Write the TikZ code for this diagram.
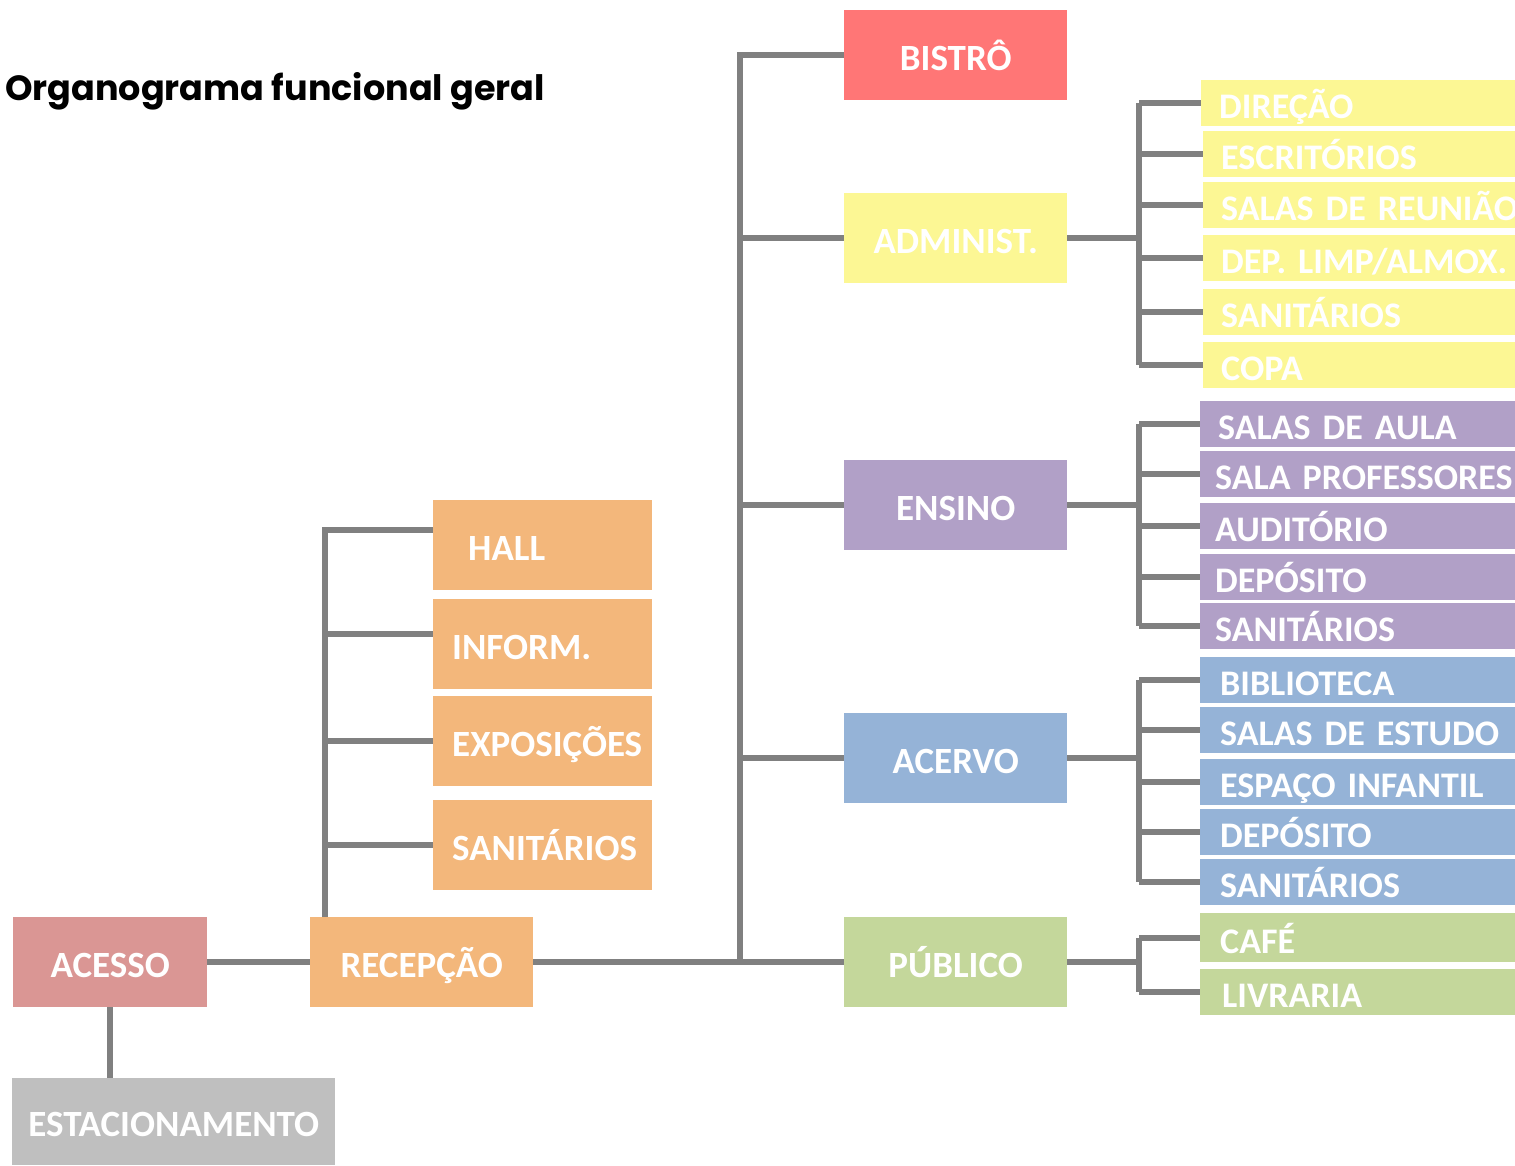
\documentclass[tikz,border=0pt]{standalone}
\usepackage{fontspec}
\setmainfont{Carlito}
\newfontfamily\titlefont{Poppins}

\definecolor{linegray}{HTML}{808080}
\definecolor{bistrored}{HTML}{FF7676}
\definecolor{adminyellow}{HTML}{FCF794}
\definecolor{ensinopurple}{HTML}{B1A0C7}
\definecolor{acervoblue}{HTML}{95B3D7}
\definecolor{publicogreen}{HTML}{C4D79B}
\definecolor{acessorose}{HTML}{DA9694}
\definecolor{recepcaoorange}{HTML}{F3B77B}
\definecolor{estacgray}{HTML}{BFBFBF}

\begin{document}
\begin{tikzpicture}[x=1pt,y=-1pt,
    conn/.style={draw=linegray,line width=6pt},
    box/.style={anchor=north west,fill=#1,minimum width=223pt,minimum height=90pt,inner sep=0pt,
        text=white,font=\bfseries\fontsize{37}{40}\selectfont,text height=30pt,text depth=0pt},
    sub/.style={anchor=north west,fill=recepcaoorange,minimum height=90pt,inner xsep=19pt,inner ysep=0pt,
        text width=181pt,align=left,text=white,execute at begin node={\hyphenpenalty=10000\relax},
        font=\bfseries\fontsize{37}{40}\selectfont,text height=30pt,text depth=0pt},
    room/.style={anchor=north west,fill=#1,minimum height=46pt,inner xsep=18pt,inner ysep=0pt,
        text width=400pt,align=left,text=white,
        font=\bfseries\fontsize{36}{38}\selectfont,text height=31pt,text depth=0pt}]
    \path[use as bounding box,fill=white] (0,0) rectangle (1515,1165);
    \clip (0,0) rectangle (1515,1165);

    % Title
    \node[anchor=base west,inner sep=0pt,font=\titlefont\bfseries\fontsize{35}{38}\selectfont] (title) at (5,100) {Organograma funcional geral};

    % Main boxes with manual coordinates
    \node[box=acessorose,minimum width=194pt] (acesso) at (13,917) {ACESSO};
    \node[box=estacgray,minimum width=323pt,minimum height=87pt] (estac) at (12,1078) {ESTACIONAMENTO};
    \node[box=recepcaoorange] (recep) at (310,917) {RECEPÇÃO};
    \node[box=bistrored] (bistro) at (844,10) {BISTRÔ};
    \node[box=adminyellow] (admin) at (844,193) {ADMINIST.};
    \node[box=ensinopurple] (ensino) at (844,460) {ENSINO};
    \node[box=acervoblue] (acervo) at (844,713) {ACERVO};
    \node[box=publicogreen] (pub) at (844,917) {PÚBLICO};

    % Reception column
    \node[sub,inner xsep=35pt,text width=149pt] (hall) at (433,500) {HALL};
    \node[sub] (inform) at (433,599) {INFORM.};
    \node[sub] (expo) at (433,696) {EXPOSIÇÕES};
    \node[sub] (sanrec) at (433,800) {SANITÁRIOS};

    % Administration rooms
    \node[room=adminyellow] (dir) at (1201,80) {DIREÇÃO};
    \node[room=adminyellow] (escr) at (1203,131) {ESCRITÓRIOS};
    \node[room=adminyellow] (reun) at (1203,182) {SALAS DE REUNIÃO};
    \node[room=adminyellow] (deplimp) at (1203,235) {DEP. LIMP/ALMOX.};
    \node[room=adminyellow] (sanadm) at (1203,289) {SANITÁRIOS};
    \node[room=adminyellow] (copa) at (1203,342) {COPA};

    % Teaching rooms
    \node[room=ensinopurple] (aula) at (1200,401) {SALAS DE AULA};
    \node[room=ensinopurple,inner xsep=15pt] (prof) at (1200,451) {SALA PROFESSORES};
    \node[room=ensinopurple,inner xsep=15pt] (audit) at (1200,503) {AUDITÓRIO};
    \node[room=ensinopurple,inner xsep=15pt] (depens) at (1200,554) {DEPÓSITO};
    \node[room=ensinopurple,inner xsep=15pt] (sanens) at (1200,603) {SANITÁRIOS};

    % Collection rooms
    \node[room=acervoblue,inner xsep=20pt] (biblio) at (1200,657) {BIBLIOTECA};
    \node[room=acervoblue,inner xsep=20pt] (estudo) at (1200,707) {SALAS DE ESTUDO};
    \node[room=acervoblue,inner xsep=20pt] (infantil) at (1200,759) {ESPAÇO INFANTIL};
    \node[room=acervoblue,inner xsep=20pt] (depace) at (1200,809) {DEPÓSITO};
    \node[room=acervoblue,inner xsep=20pt] (sanace) at (1200,859) {SANITÁRIOS};

    % Public rooms
    \node[room=publicogreen,inner xsep=20pt,minimum height=49pt] (cafe) at (1200,913) {CAFÉ};
    \node[room=publicogreen,inner xsep=22pt] (livr) at (1200,969) {LIVRARIA};

    % Edges
    \draw[conn] (acesso.east) -- (recep.west);
    \draw[conn] (acesso.south) -- (acesso.south |- estac.north);
    \draw[conn] (recep.east) -- (pub.west);

    \coordinate (trunk) at (740,0);
    \draw[conn] (bistro.west) -| (trunk |- pub.west);
    \foreach \n in {admin,ensino,acervo}
        \draw[conn] (trunk |- \n.west) -- (\n.west);

    \coordinate (hub) at (325,917);
    \draw[conn] (hub) |- ([yshift=15pt]hall.west);
    \draw[conn] (hub |- inform.west) ++(0,-10) -- ([yshift=10pt]inform.west);
    \draw[conn] (hub |- expo.west) -- (expo.west);
    \draw[conn] (hub |- sanrec.west) -- (sanrec.west);

    \draw[conn] (admin.east) -- ++(72,0) coordinate (abus);
    \draw[conn] (abus |- dir.west) -- (abus |- copa.west);
    \foreach \n in {dir,escr,reun,deplimp,sanadm,copa}
        \draw[conn] (abus |- \n.west) -- (\n.west);

    \draw[conn] (ensino.east) -- ++(72,0) coordinate (ebus);
    \draw[conn] (ebus |- aula.west) -- (ebus |- sanens.west);
    \foreach \n in {aula,prof,audit,depens,sanens}
        \draw[conn] (ebus |- \n.west) -- (\n.west);

    \draw[conn] (acervo.east) -- ++(72,0) coordinate (cbus);
    \draw[conn] (cbus |- biblio.west) -- (cbus |- sanace.west);
    \foreach \n in {biblio,estudo,infantil,depace,sanace}
        \draw[conn] (cbus |- \n.west) -- (\n.west);

    \draw[conn] (pub.east) -- ++(72,0) coordinate (pbus);
    \draw[conn] (pbus |- cafe.west) -- (pbus |- livr.west);
    \foreach \n in {cafe,livr}
        \draw[conn] (pbus |- \n.west) -- (\n.west);
\end{tikzpicture}
\end{document}
